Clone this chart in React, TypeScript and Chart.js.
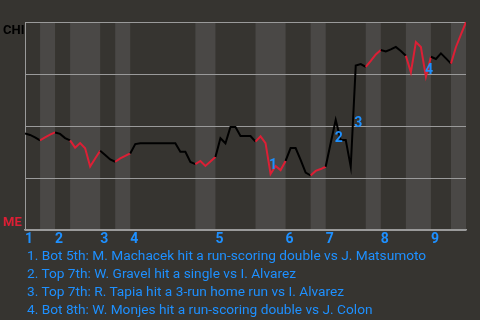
import React, { useEffect, useRef } from "react";
import { Chart, registerables } from "chart.js";

Chart.register(...registerables);

// Win probability for CHI after each play (0 = ME wins, 1 = CHI wins)
const winProb: number[] = [
  0.464, 0.457, 0.445, 0.431, 0.445, 0.459, 0.469, 0.462, 0.442, 0.431,
  0.396, 0.418, 0.393, 0.305, 0.344, 0.381, 0.361, 0.339, 0.328, 0.344,
  0.356, 0.368, 0.413, 0.417, 0.417, 0.417, 0.417, 0.417, 0.417, 0.417,
  0.417, 0.376, 0.376, 0.327, 0.317, 0.332, 0.308, 0.329, 0.351, 0.441,
  0.417, 0.495, 0.495, 0.452, 0.452, 0.452, 0.425, 0.45, 0.418, 0.269,
  0.308, 0.288, 0.332, 0.394, 0.394, 0.337, 0.276, 0.262, 0.284, 0.293,
  0.304, 0.418, 0.529, 0.433, 0.433, 0.304, 0.791, 0.798, 0.784, 0.813,
  0.844, 0.865, 0.858, 0.868, 0.88, 0.861, 0.838, 0.758, 0.904, 0.88,
  0.737, 0.833, 0.822, 0.849, 0.825, 0.8, 0.88, 0.94, 1.0,
];

// Play index where each half inning starts (last entry = final play)
const halfInningStarts: number[] = [0, 3, 6, 9, 15, 18, 21, 34, 38, 46, 52, 57, 60, 68, 71, 76, 81, 85, 88];
const inningLabels: string[] = ["1", "2", "3", "4", "5", "6", "7", "8", "9"];

const awayTeam = "CHI";
const homeTeam = "ME";

const eventNumbers: string[] = ["1", "2", "3", "4"];
const eventPlayX: number[] = [49.5, 62.6, 66.5, 80.6];
const eventProbY: number[] = [0.308, 0.44, 0.514, 0.769];
const eventNotes: string[] = [
  "1. Bot 5th: M. Machacek hit a run-scoring double vs J. Matsumoto",
  "2. Top 7th: W. Gravel hit a single vs I. Alvarez",
  "3. Top 7th: R. Tapia hit a 3-run home run vs I. Alvarez",
  "4. Bot 8th: W. Monjes hit a run-scoring double vs J. Colon",
];

const BG = "#363430";
const BAND = "#4a4846";
const GRID = "#9a9a9a";
const AWAY_COLOR = "#000000";
const HOME_COLOR = "#dc1f35";
const BLUE = "#1e90ff";
const FONT = "Roboto, 'Open Sans', sans-serif";

function halfIndexOf(i: number): number {
  for (let k = 0; k < halfInningStarts.length - 1; k++) {
    if (i >= halfInningStarts[k] && i < halfInningStarts[k + 1]) return k;
  }
  return halfInningStarts.length - 2;
}

const inningStarts = halfInningStarts.filter((_, k) => k % 2 === 0 && k < halfInningStarts.length - 1);

const bandsPlugin = {
  id: "bands",
  beforeDraw(chart: any) {
    const { ctx, chartArea, scales } = chart;
    const xs = scales.x;
    ctx.save();
    for (let k = 0; k < halfInningStarts.length - 1; k++) {
      if (k % 2 === 1) {
        const x0 = xs.getPixelForValue(halfInningStarts[k]);
        const x1 = xs.getPixelForValue(halfInningStarts[k + 1]);
        ctx.fillStyle = BAND;
        ctx.fillRect(x0, chartArea.top, x1 - x0, chartArea.bottom - chartArea.top);
      }
    }
    ctx.restore();
  },
  afterDraw(chart: any) {
    const { ctx, scales } = chart;
    const xs = scales.x;
    const ys = scales.y;
    ctx.save();
    ctx.font = `bold 13px ${FONT}`;
    ctx.textAlign = "left";
    ctx.textBaseline = "alphabetic";
    ctx.fillStyle = AWAY_COLOR;
    ctx.fillText(awayTeam, 3, ys.getPixelForValue(1) + 12);
    ctx.fillStyle = HOME_COLOR;
    ctx.fillText(homeTeam, 3, ys.getPixelForValue(0) - 4);
    ctx.font = `bold 14px ${FONT}`;
    ctx.textAlign = "center";
    ctx.textBaseline = "middle";
    ctx.fillStyle = BLUE;
    for (let i = 0; i < eventNumbers.length; i++) {
      ctx.fillText(eventNumbers[i], xs.getPixelForValue(eventPlayX[i]), ys.getPixelForValue(eventProbY[i]));
    }
    ctx.restore();
  },
};

export default function App() {
  const ref = useRef<HTMLCanvasElement | null>(null);
  useEffect(() => {
    if (!ref.current) return;
    const chart = new Chart(ref.current, {
      type: "line",
      data: {
        labels: winProb.map((_, i) => i),
        datasets: [
          {
            data: winProb.map((v, i) => ({ x: i, y: v })),
            borderWidth: 2,
            pointRadius: 0,
            tension: 0,
            borderColor: AWAY_COLOR,
            segment: {
              borderColor: (c: any) => (halfIndexOf(c.p0DataIndex) % 2 === 0 ? AWAY_COLOR : HOME_COLOR),
            },
          },
        ],
      },
      options: {
        animation: false,
        responsive: false,
        devicePixelRatio: 1,
        layout: { padding: { left: 25, right: 14, top: 22, bottom: 0 } },
        plugins: { legend: { display: false }, tooltip: { enabled: false } },
        scales: {
          x: {
            type: "linear",
            min: 0,
            max: halfInningStarts[halfInningStarts.length - 1],
            grid: { display: false, drawTicks: false },
            border: { display: true, color: GRID, width: 1.5 },
            afterBuildTicks: (axis: any) => {
              axis.ticks = inningStarts.map((v) => ({ value: v }));
            },
            afterFit: (s: any) => {
              s.height = 18;
            },
            ticks: {
              autoSkip: false,
              maxRotation: 0,
              align: "start",
              padding: 1,
              color: BLUE,
              font: { family: FONT, size: 14, weight: "bold" },
              callback: (_v: any, idx: number) => inningLabels[idx],
            },
          },
          y: {
            min: 0,
            max: 1,
            ticks: { display: false, stepSize: 0.25 },
            grid: { color: GRID, drawTicks: false, lineWidth: 1 },
            border: { display: true, color: GRID, width: 1 },
          },
        },
      },
      plugins: [bandsPlugin],
    } as any);
    return () => chart.destroy();
  }, []);

  return (
    <div style={{ position: "fixed", left: 0, top: 0, width: 480, height: 320, background: BG, overflow: "hidden" }}>
      <canvas ref={ref} width={480} height={248} style={{ position: "absolute", left: 0, top: 0, width: 480, height: 248 }} />
      <div
        style={{
          position: "absolute",
          left: 27,
          top: 246,
          color: BLUE,
          fontFamily: FONT,
          fontSize: 13.7,
          lineHeight: "18px",
          whiteSpace: "nowrap",
        }}
      >
        {eventNotes.map((n, i) => (
          <div key={i}>{n}</div>
        ))}
      </div>
    </div>
  );
}
